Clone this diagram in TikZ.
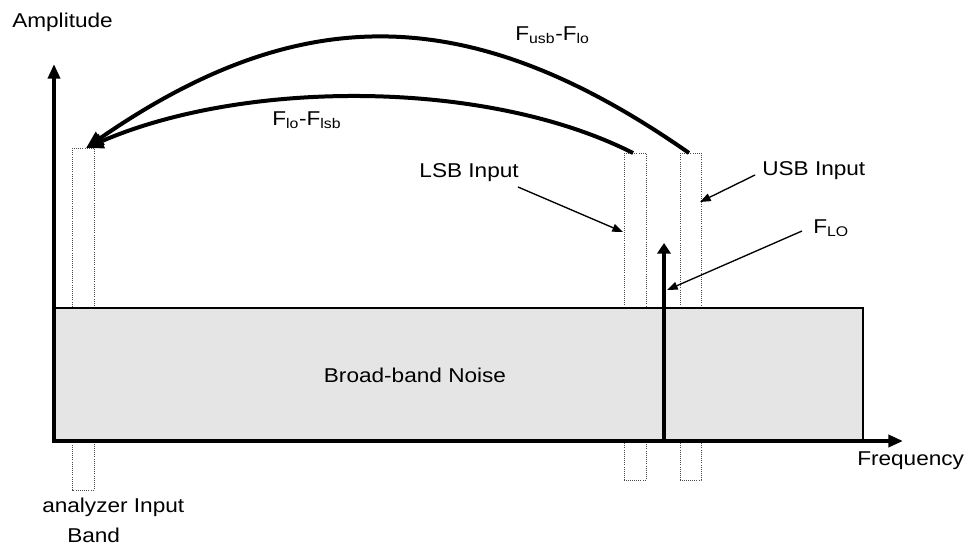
\documentclass[tikz,border=0pt]{standalone}
\usepackage{fontspec}
\setmainfont{Liberation Sans}[FakeStretch=1.13]
\usetikzlibrary{arrows.meta}
\begin{document}
\begin{tikzpicture}[x=0.75pt,y=-0.75pt,
  txt/.style={inner sep=0pt,font=\fontsize{15}{18}\selectfont},
  axis/.style={line width=3pt,-{Triangle[length=11pt,width=9pt]}},
  bigarc/.style={line width=3pt,-{Triangle[length=13pt,width=11pt]}},
  lbl/.style={line width=1pt,-{Triangle[length=8pt,width=6pt]}},
  col/.style={draw=black!70,densely dotted,line width=0.6pt},
  noise/.style={draw=black,line width=0.8pt,fill=black!10}]
\useasboundingbox (0,0) rectangle (971,547);
% columns
\draw[col] (72,148) rectangle (94,490);
\draw[col] (624,153) rectangle (646,480);
\draw[col] (680,153) rectangle (701,480);
% noise
\node[noise,minimum width=809*0.75pt,minimum height=132*0.75pt,inner sep=0pt] (noise) at (458.5,374) {};
\node[txt] (noiselbl) at (415,375) {Broad-band Noise};
% axes
\coordinate (o) at (54,441);
\coordinate (ytip) at (54,64);
\coordinate (xtip) at (903,441);
\draw[axis] (54,443) -- (ytip);
\draw[axis] (52.5,441) -- (xtip);
% F_LO arrow
\coordinate (lobot) at (664,441);
\coordinate (lotip) at (664,243);
\draw[line width=3pt,-{Triangle[length=8pt,width=10pt]}] (lobot) -- (lotip);
% arcs
\coordinate (usbtop) at (689,153);
\coordinate (lsbtop) at (633,153);
\coordinate (lefttop) at (86,148);
\draw[bigarc] (usbtop) .. controls (470,0) and (300,0) .. (lefttop);
\draw[bigarc] (lsbtop) .. controls (487,79) and (245,79) .. (lefttop);
% labels
\node[txt,anchor=base west] (amp) at (12,27) {Amplitude};
\node[txt,anchor=base west] (freq) at (857,465) {Frequency};
\node[txt,anchor=base west] (an1) at (42,512) {analyzer Input};
\node[txt,anchor=base west] (an2) at (67,542) {Band};
\node[txt,anchor=base west] (fusb) at (515,40) {F\textsubscript{usb}-F\textsubscript{lo}};
\node[txt,anchor=base west] (flsb) at (272,125) {F\textsubscript{lo}-F\textsubscript{lsb}};
\node[txt,anchor=base east] (lsb) at (519,177) {LSB Input};
\node[txt,anchor=base west] (usb) at (762,175) {USB Input};
\node[txt,anchor=base west] (flo) at (813,233) {F\textsubscript{LO}};
% label arrows
\coordinate (lsbs) at (518,187);
\coordinate (lsbe) at (623,232);
\coordinate (usbs) at (755,175);
\coordinate (usbe) at (700,202);
\coordinate (flos) at (802,231);
\coordinate (floe) at (667,290);
\draw[lbl] (lsbs) -- (lsbe);
\draw[lbl] (usbs) -- (usbe);
\draw[lbl] (flos) -- (floe);
\end{tikzpicture}
\end{document}
